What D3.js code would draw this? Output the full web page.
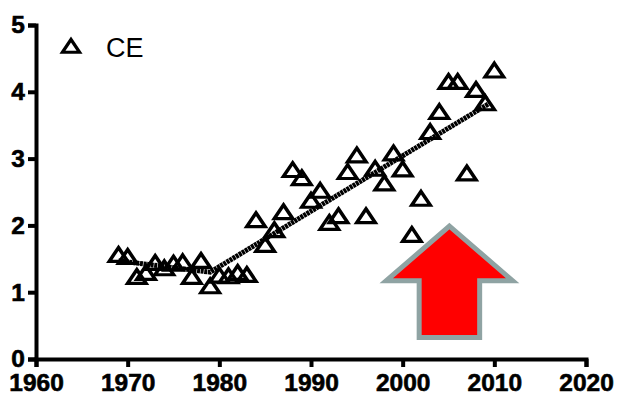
<!DOCTYPE html>
<html>
<head>
<meta charset="utf-8">
<script src="https://cdn.jsdelivr.net/npm/d3@7"></script>
<style>
  html, body { margin: 0; padding: 0; background: #fff; }
  svg { display: block; }
  text { font-family: "Liberation Sans", Arial, sans-serif; }
</style>
</head>
<body>
<script>
// ---- data ----
const years = [1969,1970,1971,1972,1973,1974,1975,1976,1977,1978,1979,1980,1981,1982,1983,1984,1985,1986,1987,1988,1989,1990,1991,1992,1993,1994,1995,1996,1997,1998,1999,2000,2001,2002,2003,2004,2005,2006,2007,2008,2009,2010];
const ceValues = [1.56,1.53,1.23,1.29,1.44,1.36,1.43,1.45,1.23,1.47,1.09,1.25,1.24,1.29,1.26,2.08,1.71,1.93,2.2,2.83,2.71,2.37,2.52,2.04,2.14,2.8,3.05,2.14,2.85,2.63,3.08,2.84,1.86,2.4,3.4,3.7,4.15,4.15,2.78,4.03,3.83,4.32];
const fitYears = [1969, 1979, 2009.5];
const fitValues = [1.47, 1.3, 3.83];
const xTicks = [1960,1970,1980,1990,2000,2010,2020];
const yTicks = [0,1,2,3,4,5];
const seriesName = "CE";
// arrow annotation outline, in data units (year, value)
const arrowYears = [2005.1, 2012.0, 2008.4, 2008.4, 2001.8, 2001.8, 1998.2];
const arrowValues = [1.99, 1.17, 1.17, 0.32, 0.32, 1.17, 1.17];

// ---- layout ----
const W = 620, H = 399;
const svg = d3.select("body").append("svg").attr("width", W).attr("height", H);

const x = d3.scaleLinear().domain([1960, 2020]).range([36, 586]);
const y = d3.scaleLinear().domain([0, 5]).range([359, 25]);

// arrow
svg.append("path")
  .attr("d", d3.line().x(d => x(d[0])).y(d => y(d[1])).curve(d3.curveLinearClosed)(arrowYears.map((a, i) => [a, arrowValues[i]])))
  .attr("fill", "#ff0000")
  .attr("stroke", "#8fa3a3")
  .attr("stroke-width", 5)
  .attr("stroke-linejoin", "miter");

// axes
const xAxis = d3.axisBottom(x).tickValues(xTicks).tickFormat(d3.format("d")).tickSize(8).tickPadding(5);
const yAxis = d3.axisLeft(y).tickValues(yTicks).tickFormat(d3.format("d")).tickSize(8).tickPadding(3);

const gx = svg.append("g").attr("transform", `translate(0,${y(0)})`).call(xAxis);
const gy = svg.append("g").attr("transform", `translate(${x(1960)},0)`).call(yAxis);

[gx, gy].forEach(g => {
  g.select(".domain").attr("stroke", "#000").attr("stroke-width", 4);
  g.selectAll(".tick line").attr("stroke", "#000").attr("stroke-width", 4);
  g.selectAll(".tick text")
    .attr("fill", "#000")
    .attr("stroke", "#000")
    .attr("stroke-width", 0.6)
    .style("font-family", "'Liberation Sans', Arial, sans-serif")
    .style("font-weight", "bold")
    .style("font-size", "24.5px");
});
gx.selectAll(".tick text").attr("dy", "0.78em");
gy.selectAll(".tick text").attr("dy", "0.32em");

// fit line
svg.append("path")
  .attr("d", d3.line().x(d => x(d[0])).y(d => y(d[1]))(fitYears.map((a, i) => [a, fitValues[i]])))
  .attr("fill", "none")
  .attr("stroke", "#000")
  .attr("stroke-width", 5)
  .attr("stroke-dasharray", "3,0.6");

// triangle markers (shifted so the box, not the centroid, sits on the point)
const tri = d3.symbol().type(d3.symbolTriangle).size(135);
svg.append("g").selectAll("path")
  .data(years.map((yr, i) => [yr, ceValues[i]]))
  .join("path")
  .attr("d", tri)
  .attr("transform", d => `translate(${x(d[0])},${y(d[1]) + 2}) scale(1.05,0.9)`)
  .attr("fill", "none")
  .attr("stroke", "#000")
  .attr("stroke-width", 3.5)
  .attr("stroke-linejoin", "miter");

// legend
const lg = svg.append("g");
lg.append("path")
  .attr("d", d3.symbol().type(d3.symbolTriangle).size(115))
  .attr("transform", "translate(71,48) scale(1.05,0.9)")
  .attr("fill", "none")
  .attr("stroke", "#000")
  .attr("stroke-width", 3.3);
lg.append("text")
  .attr("x", 106)
  .attr("y", 57)
  .style("font-size", "27px")
  .attr("fill", "#000")
  .text(seriesName);
</script>
</body>
</html>
